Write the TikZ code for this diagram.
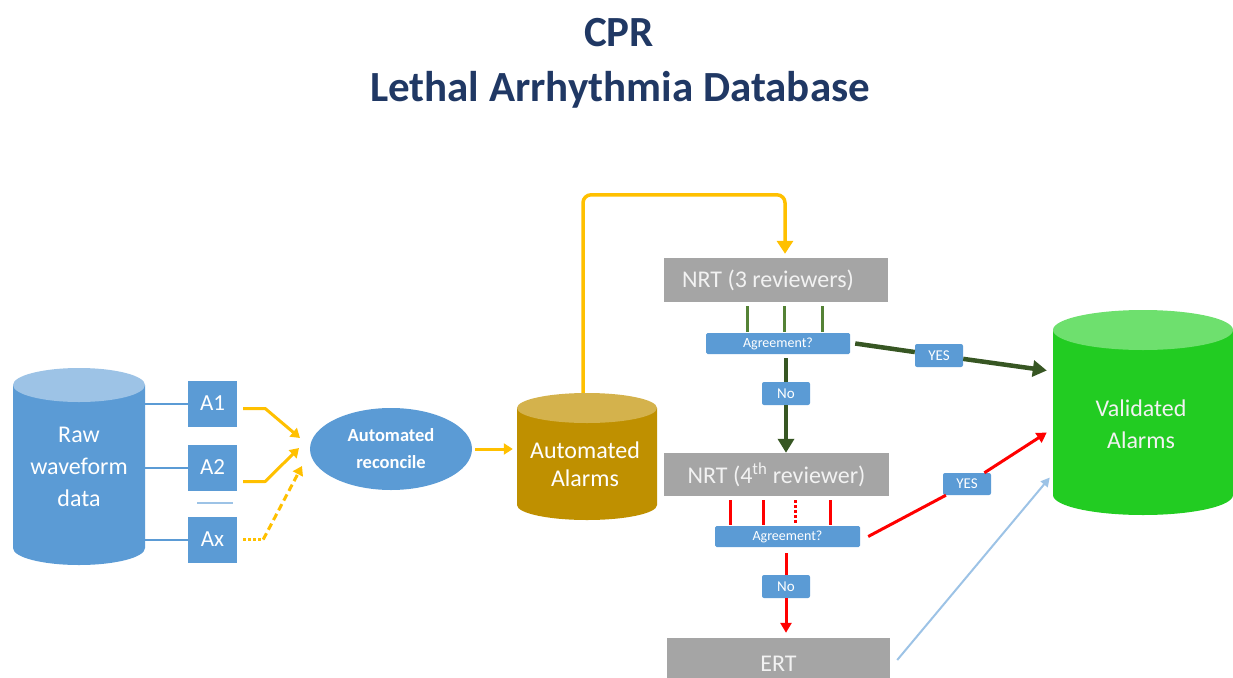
\documentclass[tikz,border=0pt]{standalone}
\usepackage{fontspec}
\setmainfont{Carlito}
\usetikzlibrary{arrows.meta,shapes.geometric,calc}
\definecolor{navy}{HTML}{203864}
\definecolor{bblue}{HTML}{5B9BD5}
\definecolor{lblue}{HTML}{9DC3E6}
\definecolor{gold}{HTML}{BF9000}
\definecolor{goldtop}{HTML}{D4B24C}
\definecolor{yel}{HTML}{FFC000}
\definecolor{vgreen}{RGB}{34,204,34}
\definecolor{vgreentop}{RGB}{110,224,110}
\definecolor{dgreen}{HTML}{375623}
\definecolor{mgreen}{HTML}{548235}
\definecolor{rred}{HTML}{FF0000}
\definecolor{gbox}{HTML}{A5A5A5}
\definecolor{gtext}{HTML}{F2F2F2}
\newcommand{\cylshape}[8]{%
  \fill[#7] (#1,#3) -- (#1,#4) arc[start angle=180,end angle=360,x radius=#5pt,y radius=#6pt] -- (#2,#3) -- cycle;
  \fill[#8] ({(#1+#2)/2},#3) ellipse[x radius=#5pt,y radius=#6pt];}
\begin{document}
\begin{tikzpicture}[x=1pt,y=-1pt,
  ttl/.style={text=navy,font=\fontsize{43}{50}\selectfont\bfseries,inner sep=0},
  abox/.style={fill=bblue,text=white,minimum width=49pt,minimum height=46pt,inner sep=0,font=\fontsize{23}{26}\selectfont},
  grbox/.style={fill=gbox,text=gtext,minimum width=224pt,minimum height=44pt,inner sep=0,font=\fontsize{24}{28}\selectfont},
  agbox/.style={fill=bblue,text=white,minimum width=144pt,minimum height=21pt,inner sep=0,rounded corners=1.5pt,font=\fontsize{14}{16}\selectfont},
  lbox/.style={fill=bblue,text=white,minimum width=48pt,minimum height=23pt,inner sep=0,rounded corners=2pt,font=\fontsize{15}{17}\selectfont},
  cyltext/.style={text=white,align=center,inner sep=0},
  yline/.style={draw=yel,line width=3.5pt},
  yarr/.style={draw=yel,line width=3pt,-{Triangle[length=9pt,width=11pt]}},
  garr/.style={draw=dgreen,line width=4.5pt,-{Triangle[length=14pt,width=16pt]}},
  gline/.style={draw=dgreen,line width=4.5pt},
  rline/.style={draw=rred,line width=3pt},
  rarr/.style={draw=rred,line width=3pt,-{Triangle[length=10pt,width=11pt]}},
  short/.style={line width=3pt,shorten <=4pt,shorten >=1pt},
]
\useasboundingbox (0,0) rectangle (1233,677);
% title
\node[ttl] (t1) at (619,33) {CPR};
\node[ttl] (t2) at (620,90) {Lethal Arrhythmia Database};
% cylinders
\cylshape{13}{145}{385}{548}{66}{17}{bblue}{lblue}
\node[cyltext,minimum width=132pt,minimum height=197pt,font=\fontsize{24}{32}\selectfont] (raw) at (79,466.5) {Raw\\waveform\\data};
\cylshape{517}{657}{408}{505}{70}{15}{gold}{goldtop}
\node[cyltext,minimum width=140pt,minimum height=127pt] (alarms) at (587,456.5) {};
\node[cyltext,font=\fontsize{24}{28}\selectfont] (alt) at (585,464) {Automated\\Alarms};
\cylshape{1053}{1233}{330}{495}{90}{20}{vgreen}{vgreentop}
\node[cyltext,minimum width=180pt,minimum height=205pt] (val) at (1143,412.5) {};
\node[cyltext,text=gtext,font=\fontsize{24}{32}\selectfont] (vt) at (1141,424) {Validated\\Alarms};
% A boxes
\node[abox] (a1) at (212.5,403.5) {A1};
\node[abox] (a2) at (212.5,467.5) {A2};
\node[abox] (ax) at (212.5,539.5) {Ax};
\draw[lblue,line width=1.5pt] (197,503) -- (233,503);
\foreach \b in {a1,a2,ax} \draw[bblue,line width=2pt] (raw.east |- \b.west) -- (\b.west);
% reconcile
\node[ellipse,fill=bblue,text=white,minimum width=162pt,minimum height=82pt,inner sep=0,align=center,font=\fontsize{18.5}{27}\selectfont\bfseries] (rec) at (391,449) {Automated\\reconcile};
\coordinate (tip1) at (300,438);
\coordinate (tip2) at (299,448);
\coordinate (tip3) at (302,466);
\draw[yarr,line join=round] ([shift={(6,5)}]a1.east) -- ++(22,0) -- (tip1);
\draw[yarr,line join=round] ([shift={(6,14)}]a2.east) -- ++(22,0) -- (tip2);
\draw[yel,line width=3pt,dotted] ([shift={(6,0)}]ax.east) -- ++(20,0) coordinate (axm);
\draw[yarr,dash pattern=on 7pt off 4pt] (axm) -- (tip3);
\draw[yarr] ([xshift=3pt]rec.east) -- ([xshift=-4pt]alarms.west |- rec.east);
% NRT 3
\node[grbox] (nrt3) at (776,280) {NRT (3 reviewers)\hspace*{16pt}};
\draw[yline,rounded corners=8pt,-{Triangle[length=13pt,width=16pt]},shorten >=4pt] ([xshift=-4pt]alarms.north) -- ++(0,-198) -| ([xshift=9pt]nrt3.north);
\node[agbox] (ag1) at (778,343.5) {Agreement?};
\foreach \xx in {747,784,822} \draw[mgreen,short] (nrt3.south -| \xx,0) -- (ag1.north -| \xx,0);
\node[lbox] (yes1) at (939,355.5) {YES};
\coordinate (v1) at ([shift={(-6,-42)}]val.west);
\draw[gline] ([xshift=5pt]ag1.east) -- (yes1);
\draw[garr] (yes1) -- (v1);
\node[lbox] (no1) at (786,393.5) {No};
\node[grbox,minimum width=225pt,minimum height=43pt] (nrt4) at (776.5,474.5) {NRT (4\textsuperscript{th} reviewer)};
\draw[gline,shorten <=4pt] (ag1.south -| no1) -- (no1);
\draw[garr] (no1) -- (nrt4.north -| no1);
% NRT 4
\node[agbox,minimum width=145pt] (ag2) at (787.5,536.5) {Agreement?};
\foreach \xx in {730,763,830} \draw[rred,short] (nrt4.south -| \xx,0) -- (ag2.north -| \xx,0);
\draw[rred,short,dotted] (nrt4.south -| 795,0) -- (ag2.north -| 795,0);
\node[lbox,minimum height=22pt] (yes2) at (967,484) {YES};
\coordinate (v2) at ([shift={(-6,20)}]val.west);
\draw[rline] ([xshift=8pt]ag2.east) -- (yes2);
\draw[rarr] (yes2) -- (v2);
\node[lbox] (no2) at (786,586.5) {No};
\node[grbox,minimum width=223pt,minimum height=52pt] (ert) at (778.5,664) {ERT};
\draw[rline,shorten <=6pt] (ag2.south -| no2) -- (no2);
\draw[rarr,shorten >=5pt] (no2) -- (ert.north -| no2);
\coordinate (v3) at ([shift={(-3,65)}]val.west);
\draw[lblue,line width=2pt,-{Triangle[length=9pt,width=9pt]}] ([shift={(7,-4)}]ert.east) -- (v3);
\end{tikzpicture}
\end{document}
